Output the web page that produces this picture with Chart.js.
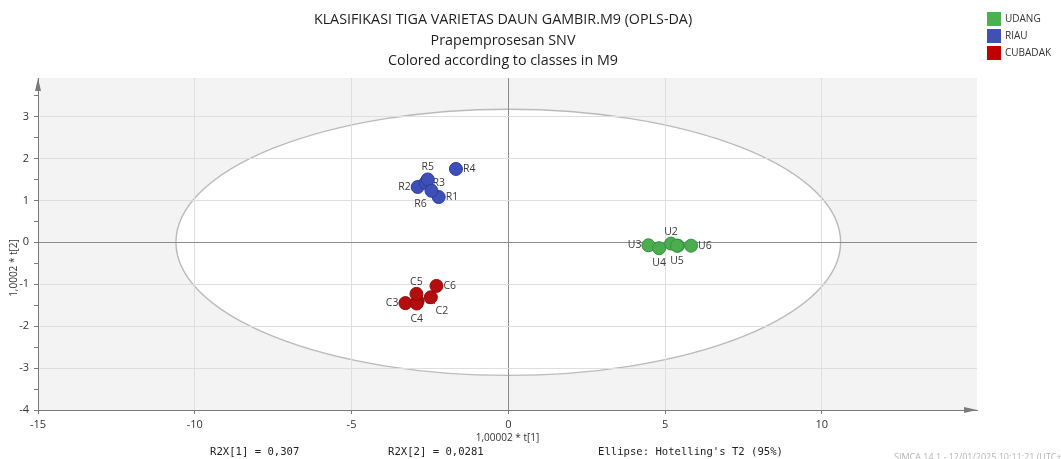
<!DOCTYPE html>
<html>
<head>
<meta charset="utf-8">
<script src="https://cdn.jsdelivr.net/npm/chart.js@4/dist/chart.umd.min.js"></script>
<style>
  html, body { margin: 0; padding: 0; background: #ffffff; }
  #wrap { width: 1061px; height: 459px; position: relative; }
</style>
</head>
<body>
<div id="wrap"><canvas id="scorePlot" width="1061" height="459"></canvas></div>
<script>
// Score values t[1] / t[2] per class (OPLS-DA, SNV preprocessing)
const classNames = ['UDANG', 'RIAU', 'CUBADAK'];

const udangNames = ['U1', 'U2', 'U3', 'U4', 'U5', 'U6'];
const udangT1 = [5.41, 5.19, 4.47, 4.81, 5.38, 5.83];
const udangT2 = [-0.08, -0.03, -0.07, -0.14, -0.08, -0.08];

const riauNames = ['R1', 'R2', 'R3', 'R4', 'R5', 'R6'];
const riauT1 = [-2.22, -2.89, -2.64, -1.67, -2.57, -2.45];
const riauT2 = [1.08, 1.32, 1.42, 1.75, 1.50, 1.23];

const cubadakNames = ['C1', 'C2', 'C3', 'C4', 'C5', 'C6'];
const cubadakT1 = [-2.89, -2.47, -3.28, -2.92, -2.93, -2.29];
const cubadakT2 = [-1.40, -1.31, -1.45, -1.46, -1.23, -1.04];

// Hotelling's T2 (95%) ellipse semi-axes in score units
const ellipseT1 = 10.6;
const ellipseT2 = 3.175;

const titleLines = [
  'KLASIFIKASI TIGA VARIETAS DAUN GAMBIR.M9 (OPLS-DA)',
  'Prapemprosesan SNV',
  'Colored according to classes in M9'
];
const xAxisTitle = '1,00002 * t[1]';
const yAxisTitle = '1,0002 * t[2]';
const footerItems = ['R2X[1] = 0,307', 'R2X[2] = 0,0281', "Ellipse: Hotelling's T2 (95%)"];
const stampText = 'SIMCA 14.1 - 12/01/2025 10:11:21 (UTC+7)';

function toPoints(xs, ys) {
  return xs.map((x, i) => ({ x: x, y: ys[i] }));
}

const SANS = '"Open Sans", "Noto Sans", sans-serif';
const MONO = '"DejaVu Sans Mono", "Liberation Mono", monospace';

// Grey plot background with the white-filled confidence ellipse
const ellipseBackground = {
  id: 'ellipseBackground',
  beforeDraw(chart) {
    const { ctx, chartArea: a, scales: { x, y } } = chart;
    ctx.save();
    ctx.fillStyle = '#f3f3f3';
    ctx.fillRect(a.left, a.top, a.right - a.left, a.bottom - a.top);
    const cx = x.getPixelForValue(0), cy = y.getPixelForValue(0);
    const rx = x.getPixelForValue(ellipseT1) - cx;
    const ry = cy - y.getPixelForValue(ellipseT2);
    ctx.beginPath();
    ctx.ellipse(cx, cy, rx, ry, 0, 0, Math.PI * 2);
    ctx.fillStyle = '#ffffff';
    ctx.fill();
    ctx.lineWidth = 1.4;
    ctx.strokeStyle = '#bababa';
    ctx.stroke();
    ctx.restore();
  }
};

// Sample names next to each score point (drawn beneath the markers)
const pointNames = {
  id: 'pointNames',
  beforeDatasetsDraw(chart, args, opts) {
    const ctx = chart.ctx;
    ctx.save();
    ctx.font = opts.font;
    ctx.fillStyle = opts.color;
    ctx.textBaseline = 'middle';
    chart.data.datasets.forEach((ds, di) => {
      const meta = chart.getDatasetMeta(di);
      meta.data.forEach((pt, i) => {
        const name = ds.names[i];
        const side = opts.placement[name] || 'e';
        let dx = 0, dy = 0, align = 'center';
        if (side === 'e') { dx = opts.gap; align = 'left'; }
        else if (side === 'w') { dx = -opts.gap; align = 'right'; }
        else if (side === 'n') { dy = -12; }
        else if (side === 's') { dy = 15; }
        else if (side === 'sw') { dx = -11; dy = 13; }
        else if (side === 'se') { dx = 11; dy = 14; }
        ctx.textAlign = align;
        ctx.fillText(name, pt.x + dx, pt.y + dy);
      });
    });
    ctx.restore();
  }
};

// Arrow heads on both axes, titles, legend and footer
const frameDecor = {
  id: 'frameDecor',
  afterDraw(chart) {
    const { ctx, chartArea: a } = chart;
    ctx.save();
    ctx.fillStyle = '#7a7a7a';
    ctx.beginPath();
    ctx.moveTo(a.left, a.top);
    ctx.lineTo(a.left - 3, a.top + 13);
    ctx.lineTo(a.left + 3, a.top + 13);
    ctx.closePath();
    ctx.fill();
    ctx.beginPath();
    ctx.moveTo(a.right, a.bottom);
    ctx.lineTo(a.right - 13, a.bottom - 3);
    ctx.lineTo(a.right - 13, a.bottom + 3);
    ctx.closePath();
    ctx.fill();

    // titles
    ctx.fillStyle = '#1e1e1e';
    ctx.textAlign = 'center';
    ctx.textBaseline = 'middle';
    ctx.font = '14.3px ' + SANS;
    const titleY = [20, 41, 61];
    titleLines.forEach((t, i) => ctx.fillText(t, 503, titleY[i]));

    // y axis title
    ctx.save();
    ctx.translate(14, 268);
    ctx.rotate(-Math.PI / 2);
    ctx.font = '10px ' + SANS;
    ctx.fillStyle = '#333333';
    ctx.fillText(yAxisTitle, 0, 0);
    ctx.restore();

    // legend
    ctx.textAlign = 'left';
    ctx.font = '10px ' + SANS;
    chart.data.datasets.forEach((ds, i) => {
      const top = 12 + i * 17;
      ctx.fillStyle = ds.legendColor;
      ctx.fillRect(987, top, 14, 14);
      ctx.fillStyle = '#333333';
      ctx.fillText(ds.label, 1005, top + 7);
    });

    // footer
    ctx.font = '10.6px ' + MONO;
    ctx.fillStyle = '#222222';
    const footerX = [210, 388, 598];
    footerItems.forEach((t, i) => ctx.fillText(t, footerX[i], 452));
    ctx.font = '9px ' + SANS;
    ctx.fillStyle = '#b4b4b4';
    ctx.fillText(stampText, 894, 457);
    ctx.restore();
  }
};

const datasets = [
  { label: classNames[0], names: udangNames, data: toPoints(udangT1, udangT2),
    backgroundColor: '#4aad4f', borderColor: '#3a8f3e', legendColor: '#4cb050' },
  { label: classNames[1], names: riauNames, data: toPoints(riauT1, riauT2),
    backgroundColor: '#3d4fb8', borderColor: '#2e3d96', legendColor: '#3f51b5' },
  { label: classNames[2], names: cubadakNames, data: toPoints(cubadakT1, cubadakT2),
    backgroundColor: '#b50d0d', borderColor: '#8f0a0a', legendColor: '#c00000' }
];

const isZero = v => Math.abs(v) < 1e-9;
const isWhole = v => Math.abs(v - Math.round(v)) < 1e-9;

new Chart(document.getElementById('scorePlot'), {
  type: 'scatter',
  data: { datasets: datasets },
  plugins: [ellipseBackground, pointNames, frameDecor],
  options: {
    responsive: false,
    animation: false,
    devicePixelRatio: 1,
    layout: { padding: { left: 0, top: 78, right: 84, bottom: 15 } },
    elements: { point: { radius: 6.5, hoverRadius: 6.5, borderWidth: 1 } },
    plugins: {
      legend: { display: false },
      tooltip: { enabled: false },
      pointNames: {
        font: '10.5px ' + SANS,
        color: '#3a3a3a',
        gap: 7,
        placement: {
          R1: 'e', R2: 'w', R3: 'e', R4: 'e', R5: 'n', R6: 'sw',
          C1: 'e', C2: 'se', C3: 'w', C4: 's', C5: 'n', C6: 'e',
          U1: 'e', U2: 'n', U3: 'w', U4: 's', U5: 's', U6: 'e'
        }
      }
    },
    scales: {
      x: {
        type: 'linear',
        min: -15,
        max: 14.95,
        afterFit(scale) { scale.height = 34; },
        ticks: {
          stepSize: 5,
          includeBounds: false,
          autoSkip: false,
          maxRotation: 0,
          padding: 4,
          color: '#333333',
          font: { family: SANS, size: 11 }
        },
        grid: {
          color: c => isZero(c.tick.value) ? '#8c8c8c' : '#dedede',
          lineWidth: 1,
          tickLength: 4,
          tickColor: '#7a7a7a'
        },
        border: { display: true, color: '#7a7a7a', width: 1 },
        title: {
          display: true,
          text: xAxisTitle,
          color: '#333333',
          font: { family: SANS, size: 10 },
          padding: { top: 0, bottom: 0 }
        }
      },
      y: {
        type: 'linear',
        min: -4,
        max: 3.92,
        afterFit(scale) { scale.width = 38; },
        ticks: {
          stepSize: 0.5,
          includeBounds: false,
          autoSkip: false,
          padding: 5,
          color: '#333333',
          font: { family: SANS, size: 11 },
          callback: v => isWhole(v) ? String(Math.round(v)) : ''
        },
        grid: {
          color: c => !isWhole(c.tick.value) ? 'rgba(0,0,0,0)' : (isZero(c.tick.value) ? '#8c8c8c' : '#dedede'),
          lineWidth: 1,
          tickLength: 4,
          tickColor: '#7a7a7a'
        },
        border: { display: true, color: '#7a7a7a', width: 1 }
      }
    }
  }
});
</script>
</body>
</html>
